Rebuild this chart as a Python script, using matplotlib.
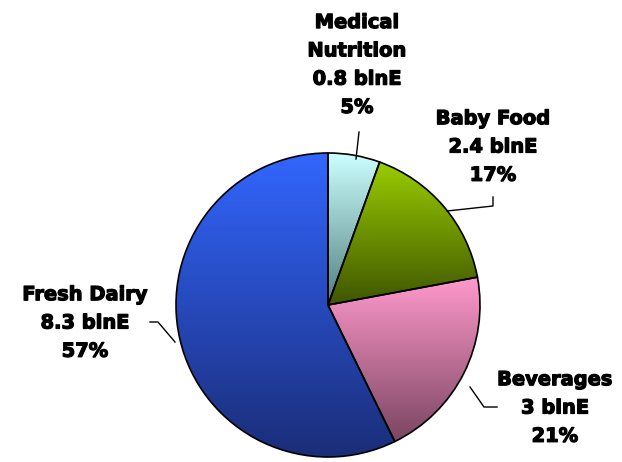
import numpy as np
import matplotlib
matplotlib.use('Agg')
from matplotlib import pyplot as plt
from matplotlib.colors import LinearSegmentedColormap
import matplotlib.patheffects as pe

# data (blnE)
segments = ['Medical\nNutrition', 'Baby Food', 'Beverages', 'Fresh Dairy']
values = [0.8, 2.4, 3, 8.3]
value_labels = ['0.8 blnE', '2.4 blnE', '3 blnE', '8.3 blnE']
pct_labels = ['5%', '17%', '21%', '57%']

# gradient colours per slice (top, bottom)
grad_colors = [('#ccffff', '#527f80'),
               ('#99cc00', '#3f5500'),
               ('#ff99cc', '#7a4560'),
               ('#3366ff', '#1a2d78')]

W, H = 622, 462
fig = plt.figure(figsize=(6.22, 4.62), dpi=100)
ax = fig.add_axes([0, 0, 1, 1])

def Y(y):
    return H - y

cx, cy, r = 328, Y(305), 152
wedges, _ = ax.pie(values, startangle=90, counterclock=False, center=(cx, cy),
                   radius=r, frame=True,
                   wedgeprops=dict(edgecolor='black', linewidth=1.2, facecolor='none'))
ax.set_xlim(0, W)
ax.set_ylim(0, H)
ax.set_aspect('equal')
ax.axis('off')

grad = np.linspace(1, 0, 256).reshape(-1, 1)
for w, (c_top, c_bot) in zip(wedges, grad_colors):
    cmap = LinearSegmentedColormap.from_list('g', [c_bot, c_top])
    bb = w.get_path().get_extents(w.get_patch_transform())
    im = ax.imshow(grad, cmap=cmap, aspect='auto', origin='upper',
                   extent=[bb.x0, bb.x1, bb.y0, bb.y1], zorder=1)
    im.set_clip_path(w)
    w.set_zorder(2)

# labels: (x, y of centre of block)
label_pos = [(357, 65), (493, 147), (555, 408), (85, 323)]
for name, val, pct, (lx, ly) in zip(segments, value_labels, pct_labels, label_pos):
    ax.text(lx, Y(ly), name + '\n' + val + '\n' + pct, ha='center', va='center',
            fontsize=14, fontweight='bold', family='DejaVu Sans',
            linespacing=1.62, color='black', zorder=3,
            path_effects=[pe.withStroke(linewidth=0.9, foreground='black')])

# leader lines
leaders = [
    [(359, 132), (356, 159)],
    [(493, 197), (493, 206), (447, 211)],
    [(497, 407), (484, 407), (470, 387)],
    [(150, 322), (158, 322), (175, 342)],
]
for pts in leaders:
    xs = [p[0] for p in pts]
    ys = [Y(p[1]) for p in pts]
    ax.plot(xs, ys, color='black', linewidth=1.0, zorder=3)

fig.savefig('out.png', dpi=100, facecolor='white')
